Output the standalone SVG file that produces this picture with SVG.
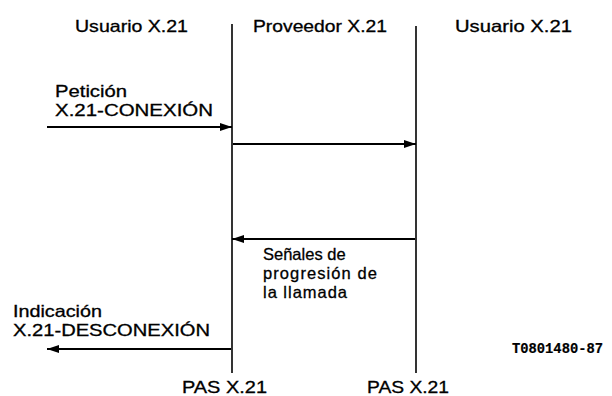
<svg xmlns="http://www.w3.org/2000/svg" width="612" height="396" viewBox="0 0 612 396">
<defs>
<marker id="ah" viewBox="0 0 12 8" refX="12" refY="4" markerWidth="12" markerHeight="8" markerUnits="userSpaceOnUse" orient="auto">
<path d="M0,0 L12,4 L0,8 Z" fill="#000"/>
</marker>
<style>
text{font-family:"Liberation Sans",Arial,sans-serif;font-size:16.5px;fill:#000;stroke:#000;stroke-width:0.3}
.code{font-family:"Liberation Mono","Courier New",monospace;font-size:14px;font-weight:bold;stroke-width:0.2}
.life{stroke:#000;stroke-width:1.6;fill:none}
.msg{stroke:#000;stroke-width:2;fill:none;marker-end:url(#ah)}
</style>
</defs>
<rect width="612" height="396" fill="#fff"/>
<g id="user-left"><text x="75" y="32" textLength="113" lengthAdjust="spacingAndGlyphs">Usuario X.21</text></g>
<g id="provider"><text x="253" y="32" textLength="134" lengthAdjust="spacingAndGlyphs">Proveedor X.21</text></g>
<g id="user-right"><text x="455" y="32" textLength="117" lengthAdjust="spacingAndGlyphs">Usuario X.21</text></g>
<g id="pas-left"><line class="life" x1="232" y1="24" x2="232" y2="373"/><text x="182" y="393" textLength="85" lengthAdjust="spacingAndGlyphs">PAS X.21</text></g>
<g id="pas-right"><line class="life" x1="416" y1="26" x2="416" y2="373"/><text x="367" y="393" textLength="82" lengthAdjust="spacingAndGlyphs">PAS X.21</text></g>
<g id="connectors">
<line class="msg" x1="47" y1="127" x2="232" y2="127"/>
<line class="msg" x1="233" y1="144" x2="416" y2="144"/>
<line class="msg" x1="415" y1="239" x2="232" y2="239"/>
<line class="msg" x1="231" y1="349" x2="47" y2="349"/>
</g>
<g id="labels">
<text x="55" y="97" textLength="72" lengthAdjust="spacingAndGlyphs">Petición</text>
<text x="55" y="116" textLength="158" lengthAdjust="spacingAndGlyphs">X.21-CONEXIÓN</text>
<text x="263" y="260">Señales de</text>
<text x="263" y="279" textLength="114">progresión de</text>
<text x="263" y="298" textLength="84">la llamada</text>
<text x="13" y="317" textLength="89" lengthAdjust="spacingAndGlyphs">Indicación</text>
<text x="13" y="336" textLength="197" lengthAdjust="spacingAndGlyphs">X.21-DESCONEXIÓN</text>
<text class="code" x="512" y="353" textLength="91" lengthAdjust="spacingAndGlyphs">T0801480-87</text>
</g>
</svg>
